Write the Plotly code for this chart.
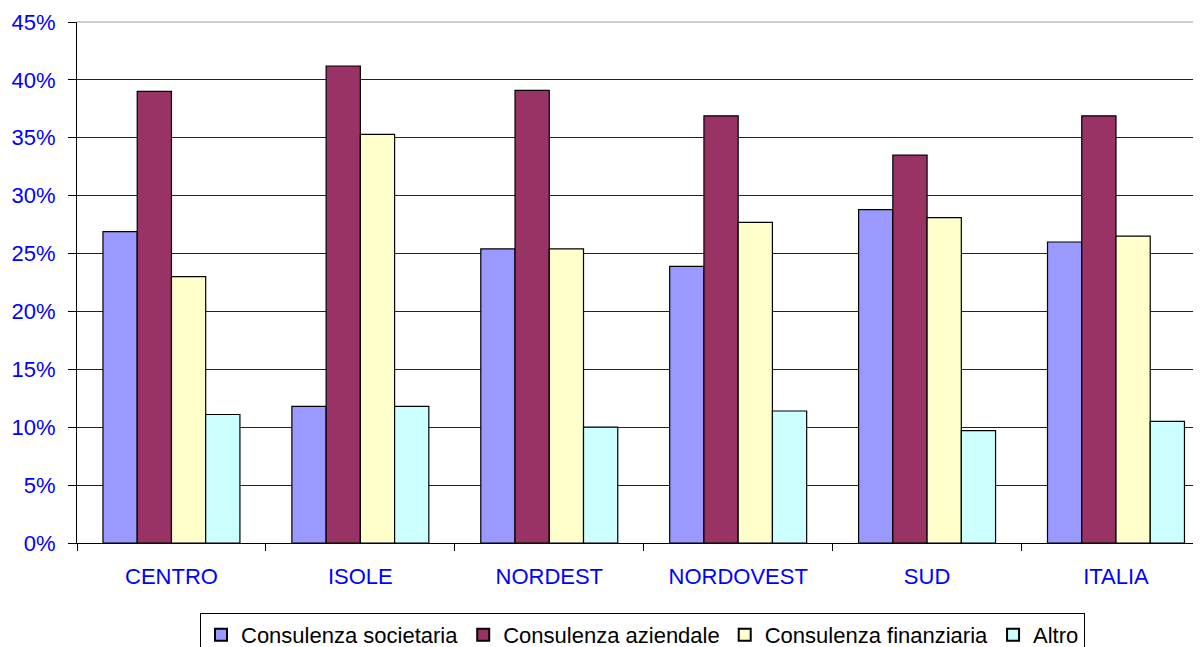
import plotly.graph_objects as go

categories = ["CENTRO", "ISOLE", "NORDEST", "NORDOVEST", "SUD", "ITALIA"]
societaria = [26.9, 11.8, 25.4, 23.9, 28.8, 26.0]
aziendale = [39.0, 41.2, 39.1, 36.9, 33.5, 36.9]
finanziaria = [23.0, 35.3, 25.4, 27.7, 28.1, 26.5]
altro = [11.1, 11.8, 10.0, 11.4, 9.7, 10.5]

series_names = ["Consulenza societaria", "Consulenza aziendale", "Consulenza finanziaria", "Altro"]
series_values = [societaria, aziendale, finanziaria, altro]
colors = ["#9999FF", "#993366", "#FFFFCC", "#CCFFFF"]

y_ticks = [0, 5, 10, 15, 20, 25, 30, 35, 40, 45]
y_tick_labels = [f"{v}%" for v in y_ticks]

fig = go.Figure()
for name, vals, col in zip(series_names, series_values, colors):
    fig.add_trace(go.Bar(
        x=categories, y=vals, name=name,
        marker=dict(color=col, line=dict(color="black", width=1.2)),
    ))

fig.update_layout(
    width=1193, height=639,
    margin=dict(l=69, r=0, t=14, b=104, autoexpand=False),
    paper_bgcolor="white", plot_bgcolor="white",
    barmode="group", bargap=0.275, bargroupgap=0,
    font=dict(family="Liberation Sans, Arial, sans-serif", color="black"),
    showlegend=True,
    legend=dict(
        orientation="h", xref="container", yref="container",
        x=634.5 / 1193, xanchor="center", y=1 - 605 / 639, yanchor="top",
        bordercolor="black", borderwidth=1, font=dict(size=22, color="black"),
        itemsizing="constant", tracegroupgap=0, itemwidth=30,
    ),
    shapes=[dict(type="line", xref="x domain", yref="y domain", x0=0, x1=1, y0=1, y1=1,
                 line=dict(color="#BBBBBB", width=1.5), layer="above")],
)
fig.update_xaxes(
    range=[-0.5, 5.45], showline=True, linecolor="black", linewidth=1,
    ticks="outside", tickson="boundaries", ticklen=7, tickcolor="black",
    tickfont=dict(size=22, color="#0000FF"), showgrid=False, ticklabelstandoff=14,
)
fig.update_yaxes(
    range=[0, 45], tickvals=y_ticks, ticktext=y_tick_labels,
    showline=True, linecolor="black", linewidth=1,
    ticks="outside", ticklen=8, tickcolor="black",
    tickfont=dict(size=22, color="#0000FF"), ticklabelstandoff=8,
    showgrid=True, gridcolor="#222222", gridwidth=1, zeroline=False,
)

fig.write_html("out.html")
